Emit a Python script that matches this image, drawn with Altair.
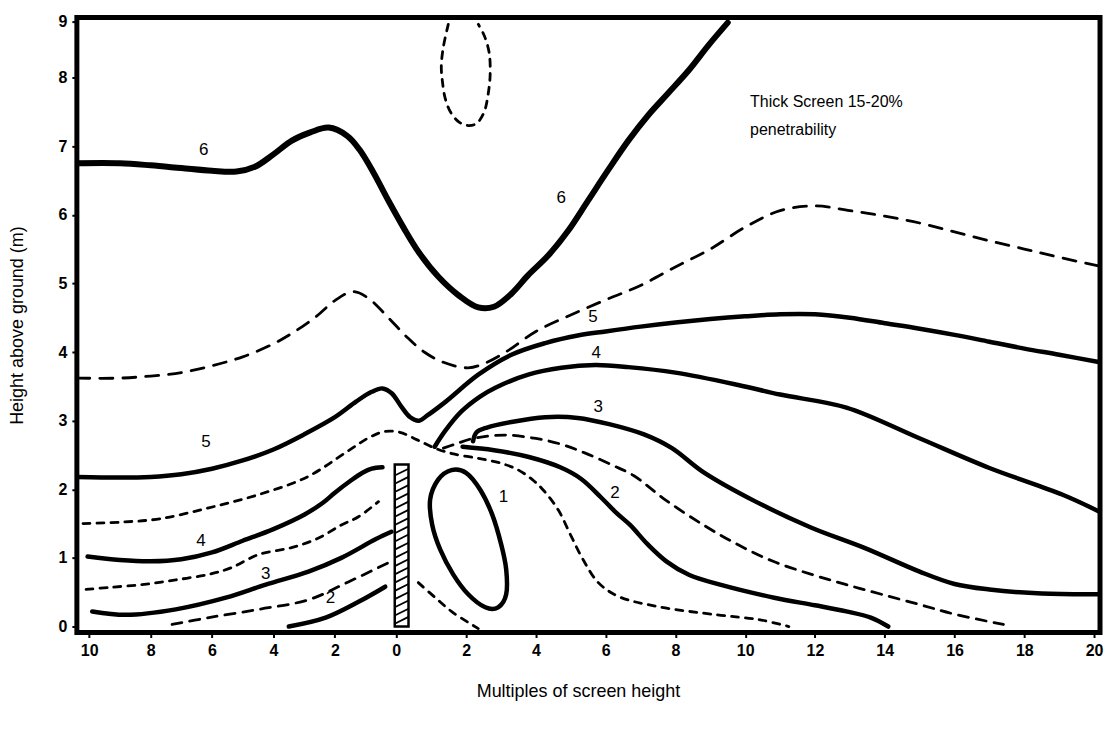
import altair as alt
import pandas as pd

FONT = "Liberation Sans"

# x: multiples of screen height (negative = upwind side), y: height above ground (m)
s6_x = [-10.4, -9, -8, -7, -6, -5.2, -4.6, -4.0, -3.4, -2.8, -2.2, -1.6, -1.2, -0.75, -0.25, 0.2, 0.65, 1.2, 1.8, 2.35, 2.8, 3.3, 3.78, 4.36, 4.93, 5.5, 6.07, 6.65, 7.22, 7.79, 8.37, 8.94, 9.5]
s6_y = [6.75, 6.75, 6.72, 6.68, 6.64, 6.63, 6.7, 6.88, 7.08, 7.2, 7.27, 7.15, 6.95, 6.62, 6.2, 5.82, 5.45, 5.1, 4.82, 4.65, 4.66, 4.85, 5.12, 5.41, 5.77, 6.21, 6.65, 7.08, 7.45, 7.77, 8.12, 8.57, 8.98]

s5_x = [-10.4, -9, -8, -7, -6, -5, -4, -3, -2, -1.3, -0.8, -0.45, -0.15, 0.15, 0.4, 0.65, 0.9, 1.4, 2.35, 3.3, 4.27, 5.2, 6, 7, 8, 9, 10, 11, 12, 13, 14, 15, 16, 17, 18, 19, 20.17]
s5_y = [2.18, 2.17, 2.18, 2.22, 2.3, 2.42, 2.58, 2.8, 3.05, 3.28, 3.42, 3.47, 3.4, 3.2, 3.05, 3.0, 3.08, 3.27, 3.67, 3.96, 4.13, 4.24, 4.3, 4.37, 4.43, 4.48, 4.52, 4.55, 4.55, 4.5, 4.42, 4.34, 4.25, 4.15, 4.05, 3.96, 3.85]

s4u_x = [-10.05, -9, -8, -7, -6, -5, -4, -3, -2.4, -2, -1.5, -1.1, -0.8, -0.45]
s4u_y = [1.02, 0.97, 0.95, 0.98, 1.08, 1.25, 1.42, 1.63, 1.8, 1.95, 2.12, 2.24, 2.3, 2.32]
s4d_x = [1.1, 1.4, 1.86, 2.4, 2.84, 3.78, 4.73, 5.7, 6.65, 8.0, 9.8, 11.0, 12.9, 14.96, 17.0, 19.1, 20.17]
s4d_y = [2.62, 2.85, 3.13, 3.35, 3.48, 3.67, 3.77, 3.81, 3.78, 3.7, 3.52, 3.38, 3.19, 2.75, 2.31, 1.92, 1.67]

s3u_x = [-9.9, -8.8, -7.18, -5.55, -4.25, -2.86, -1.79, -0.68, -0.16]
s3u_y = [0.22, 0.17, 0.25, 0.42, 0.61, 0.8, 1.0, 1.27, 1.38]
s3d_x = [2.2, 2.3, 2.6, 3.3, 4.27, 5.2, 6.1, 7.1, 7.9, 8.8, 10.3, 11.9, 13.4, 15.0, 16.0, 17.0, 18.5, 20.17]
s3d_y = [2.7, 2.83, 2.9, 2.98, 3.05, 3.04, 2.95, 2.8, 2.6, 2.25, 1.82, 1.44, 1.15, 0.8, 0.62, 0.54, 0.48, 0.47]

s2u_x = [-3.5, -2.3, -1.23, -0.36]
s2u_y = [0.0, 0.13, 0.36, 0.58]
s2d_x = [1.9, 2.8, 3.8, 4.7, 5.3, 5.87, 6.3, 6.7, 7.2, 7.74, 8.4, 9.28, 10.83, 12.0, 12.9, 13.6, 14.1]
s2d_y = [2.62, 2.57, 2.47, 2.32, 2.15, 1.88, 1.66, 1.48, 1.2, 0.95, 0.75, 0.61, 0.42, 0.31, 0.22, 0.13, 0.0]

s1_x = [1.58, 1.2, 0.97, 1.03, 1.26, 1.63, 2.06, 2.55, 2.92, 3.15, 3.15, 3.01, 2.75, 2.41, 2.0]
s1_y = [2.28, 2.14, 1.85, 1.48, 1.12, 0.76, 0.47, 0.28, 0.28, 0.47, 0.83, 1.19, 1.63, 1.99, 2.24]

d55_x = [-10.4, -9, -8, -7, -6, -5, -4, -3.3, -2.6, -2.0, -1.4, -0.9, -0.3, 0.3, 0.8, 1.35, 2.06, 2.6, 3.2, 4.0, 5.0, 6.0, 7.0, 8.0, 9.0, 10.0, 11.0, 12.0, 13.0, 14.0, 15.0, 16.0, 17.0, 18.0, 19.0, 20.17]
d55_y = [3.62, 3.62, 3.65, 3.7, 3.8, 3.93, 4.12, 4.3, 4.52, 4.75, 4.88, 4.78, 4.52, 4.22, 4.0, 3.85, 3.77, 3.85, 4.02, 4.3, 4.54, 4.76, 4.97, 5.24, 5.5, 5.82, 6.06, 6.13, 6.06, 5.98, 5.88, 5.75, 5.62, 5.5, 5.38, 5.25]

d45_x = [-10.2, -9, -7.7, -6.1, -4.5, -2.9, -1.6, -0.9, -0.4, 0.1, 0.6, 1.1, 1.6, 2.35, 3.0, 3.5, 3.9, 4.21, 4.64, 4.99, 5.36, 5.79, 6.36, 7.5, 9.2, 10.4, 11.25]
d45_y = [1.5, 1.52, 1.57, 1.73, 1.92, 2.18, 2.55, 2.75, 2.84, 2.83, 2.72, 2.6, 2.52, 2.45, 2.38, 2.28, 2.14, 1.99, 1.7, 1.34, 0.97, 0.64, 0.44, 0.29, 0.17, 0.1, 0.0]

d35_x = [-10.1, -9.35, -8.28, -7.18, -6.1, -5.36, -4.48, -3.41, -2.53, -1.79, -1.23, -0.58]
d35_y = [0.54, 0.57, 0.61, 0.68, 0.76, 0.86, 1.05, 1.15, 1.29, 1.48, 1.6, 1.82]

d25u_x = [-7.3, -6.1, -4.48, -2.86, -1.56, -0.26]
d25u_y = [0.03, 0.13, 0.25, 0.39, 0.65, 0.93]
d25d_x = [1.35, 1.7, 2.2, 3.1, 4.0, 4.7, 5.4, 6.2, 6.8, 7.7, 8.8, 9.8, 10.8, 11.9, 12.9, 13.9, 15.0, 16.0, 17.4]
d25d_y = [2.6, 2.66, 2.74, 2.79, 2.74, 2.66, 2.53, 2.35, 2.2, 1.85, 1.48, 1.19, 0.95, 0.76, 0.61, 0.47, 0.32, 0.18, 0.03]

lee_x = [0.63, 1.12, 1.58, 2.06, 2.35]
lee_y = [0.64, 0.42, 0.22, 0.06, -0.03]

top_x = [1.49, 1.35, 1.29, 1.32, 1.4, 1.55, 1.8, 2.06, 2.3, 2.52, 2.63, 2.69, 2.66, 2.52, 2.35]
top_y = [8.95, 8.55, 8.2, 7.95, 7.7, 7.5, 7.35, 7.3, 7.33, 7.5, 7.75, 8.05, 8.45, 8.75, 8.95]

lab_text = ["6", "6", "5", "4", "3", "2", "1", "5", "4", "3", "2"]
lab_x = [-6.27, 4.73, 5.64, 5.73, 5.79, 6.27, 3.07, -6.2, -6.36, -4.25, -2.14]
lab_y = [6.94, 6.25, 4.51, 3.99, 3.2, 1.95, 1.89, 2.69, 1.24, 0.76, 0.42]

note_text = ["Thick Screen 15-20%", "penetrability"]
note_x = [10.14, 10.14]
note_y = [7.64, 7.24]

screen_x = [-0.05, 0.35]
screen_h = 2.36

x_ticks = list(range(-10, 21, 2))
y_ticks = list(range(0, 10))


def curves_df(curves):
    rows = []
    for name, xs, ys in curves:
        for i, (a, b) in enumerate(zip(xs, ys)):
            rows.append({"id": name, "i": i, "x": a, "y": b})
    return pd.DataFrame(rows)


xscale = alt.Scale(domain=[-10.4, 0, 20.17], range=[0, 320, 1025], nice=False, zero=False)
yscale = alt.Scale(domain=[-0.087, 8, 9.07], range=[616, 60, 0], nice=False, zero=False)

xaxis = alt.Axis(values=x_ticks, labelExpr="abs(datum.value)", domain=False, grid=False,
                 tickSize=5, tickWidth=2, tickColor="black", labelFont=FONT, labelFontSize=16,
                 labelFontWeight="bold", labelColor="black", labelPadding=5, labelFlush=False,
                 labelOverlap=False, title="Multiples of screen height", titleFont=FONT,
                 titleFontSize=18, titleFontWeight="normal", titleColor="black",
                 titlePadding=24, titleX=502)
yaxis = alt.Axis(values=y_ticks, domain=False, grid=False, tickSize=5, tickWidth=2,
                 tickColor="black", labelFont=FONT, labelFontSize=16, labelFontWeight="bold",
                 labelColor="black", labelPadding=5, labelFlush=False, labelOverlap=False,
                 title="Height above ground (m)", titleFont=FONT, titleFontSize=18,
                 titleFontWeight="normal", titleColor="black", titlePadding=32)

X = alt.X("x:Q", scale=xscale, axis=xaxis)
Y = alt.Y("y:Q", scale=yscale, axis=yaxis)


def line_layer(curves, width, dash=None, interp="catmull-rom"):
    kw = dict(stroke="black", strokeWidth=width, interpolate=interp, clip=True, strokeCap="round")
    if dash:
        kw["strokeDash"] = dash
    return alt.Chart(curves_df(curves)).mark_line(**kw).encode(
        x=X, y=Y, detail="id:N", order="i:Q")


thick = line_layer([("6", s6_x, s6_y)], 6)
solid = line_layer([("5", s5_x, s5_y), ("4u", s4u_x, s4u_y), ("4d", s4d_x, s4d_y),
                    ("3u", s3u_x, s3u_y), ("3d", s3d_x, s3d_y),
                    ("2u", s2u_x, s2u_y), ("2d", s2d_x, s2d_y)], 4.5)
oval1 = line_layer([("1", s1_x, s1_y)], 4.5, interp="cardinal-closed")
dlong = line_layer([("55", d55_x, d55_y)], 2.8, dash=[13, 10])
dmid = line_layer([("25u", d25u_x, d25u_y), ("25d", d25d_x, d25d_y)], 2.8, dash=[10, 8])
dshort = line_layer([("45", d45_x, d45_y), ("35", d35_x, d35_y), ("lee", lee_x, lee_y),
                     ("top", top_x, top_y)], 2.8, dash=[7, 7])

screen_df = pd.DataFrame({"x": [screen_x[0]], "x2": [screen_x[1]], "y": [0.0], "y2": [screen_h]})
screen = alt.Chart(screen_df).mark_rect(fill="white", stroke="black", strokeWidth=2.5).encode(
    x=X, x2="x2:Q", y=Y, y2="y2:Q")

hatch_rows = []
k = 0.04
while k + 0.1 < screen_h:
    hatch_rows.append({"x": screen_x[0], "x2": screen_x[1], "y": k, "y2": k + 0.1})
    k += 0.12
hatch = alt.Chart(pd.DataFrame(hatch_rows)).mark_rule(stroke="black", strokeWidth=1.8).encode(
    x=X, x2="x2:Q", y=Y, y2="y2:Q")

labels = alt.Chart(pd.DataFrame({"x": lab_x, "y": lab_y, "t": lab_text})).mark_text(
    font=FONT, fontSize=17, color="black").encode(x=X, y=Y, text="t:N")

note = alt.Chart(pd.DataFrame({"x": note_x, "y": note_y, "t": note_text})).mark_text(
    font=FONT, fontSize=16, color="black", align="left").encode(x=X, y=Y, text="t:N")

chart = alt.layer(dlong, dmid, dshort, thick, solid, oval1, screen, hatch, labels, note).properties(
    width=1025, height=616,
    background="white",
    padding={"left": 0, "top": 4, "right": 6, "bottom": 4},
).configure_view(stroke="black", strokeWidth=5)

chart.save("out.html", embed_options={"renderer": "svg", "actions": False})
